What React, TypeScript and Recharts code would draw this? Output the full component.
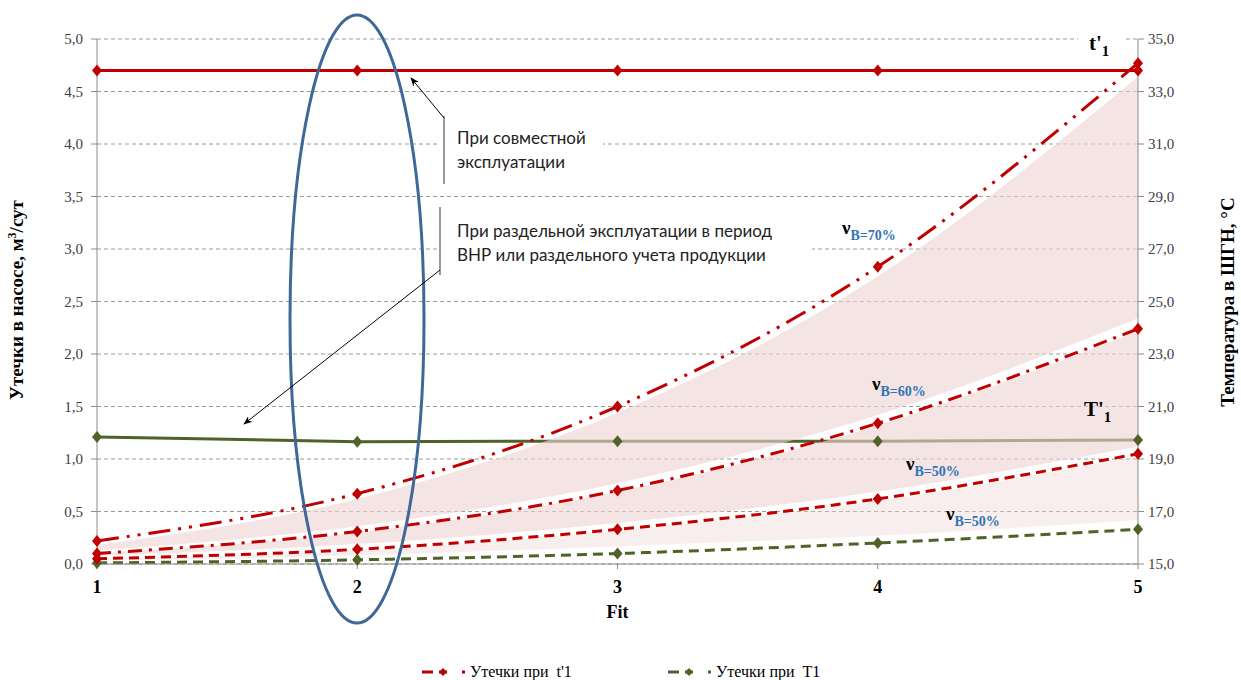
import React from 'react';
import { ComposedChart, Line, Area, XAxis, YAxis, CartesianGrid } from 'recharts';

// Fit values along the x axis
const fit = [1, 2, 3, 4, 5];

// Leakage in the pump, m3/day (left axis)
const leak70 = [0.22, 0.67, 1.5, 2.83, 4.77];
const leak60 = [0.1, 0.31, 0.7, 1.34, 2.24];
const leak50 = [0.05, 0.14, 0.33, 0.62, 1.05];
const leakT1 = [0.01, 0.04, 0.1, 0.2, 0.33];

// Temperature in the pump, °C (right axis)
const tempT1Prime = [33.8, 33.8, 33.8, 33.8, 33.8];
const tempTCap = [19.84, 19.66, 19.68, 19.68, 19.72];

// Shaded bands between the leakage curves (low/high edges, left axis)
const band70Low = [0.13, 0.36, 0.77, 1.42, 2.34];
const band70High = [0.18, 0.62, 1.44, 2.74, 4.64];
const band60Low = [0.08, 0.19, 0.39, 0.69, 1.12];
const band60High = [0.1, 0.3, 0.69, 1.32, 2.22];
const band50Low = [0.03, 0.08, 0.17, 0.27, 0.42];
const band50High = [0.05, 0.13, 0.32, 0.6, 1.03];

const leftTicks = [0, 0.5, 1, 1.5, 2, 2.5, 3, 3.5, 4, 4.5, 5];
const rightTicks = [15, 17, 19, 21, 23, 25, 27, 29, 31, 33, 35];

const data = fit.map((x, i) => ({
  fit: x,
  leak70: leak70[i],
  leak60: leak60[i],
  leak50: leak50[i],
  leakT1: leakT1[i],
  tT1: tempT1Prime[i],
  tCap: tempTCap[i],
  b70: [band70Low[i], band70High[i]],
  b60: [band60Low[i], band60High[i]],
  b50: [band50Low[i], band50High[i]],
}));

const RED = '#c00000';
const GREEN = '#4f6228';
const PINK = '#eed3d2';
const SERIF = '"Liberation Serif", "Times New Roman", serif';
const SANS = 'Lato, "Noto Sans", sans-serif';

const comma = (v: number) => v.toFixed(1).replace('.', ',');

const diamond = (color: string) => (props: any) => {
  const { cx, cy, index } = props;
  if (cx == null || cy == null) return <g key={`d-${index}`} />;
  return (
    <path
      key={`d-${index}`}
      d={`M${cx},${cy - 6} L${cx + 5},${cy} L${cx},${cy + 6} L${cx - 5},${cy} Z`}
      fill={color}
    />
  );
};

const Nu = ({ x, y, sub }: { x: number; y: number; sub: string }) => (
  <text x={x} y={y} fontFamily={SERIF} fontWeight="bold">
    <tspan fontSize={19} fill="#000">ν</tspan>
    <tspan fontSize={14} fill="#2e75b6" dy={6}>{sub}</tspan>
  </text>
);

const LegendItem = ({ x, color, label }: { x: number; color: string; label: string }) => (
  <g>
    <line x1={x} y1={672} x2={x + 11} y2={672} stroke={color} strokeWidth={3} />
    <path d={`M${x + 21},${672 - 4} L${x + 25},${672} L${x + 21},${672 + 4} L${x + 17},${672} Z`} fill={color} />
    <line x1={x + 17} y1={672} x2={x + 25} y2={672} stroke={color} strokeWidth={3} />
    <rect x={x + 40} y={670.5} width={3} height={3} fill={color} />
    <text x={x + 48} y={677} fontFamily={SERIF} fontSize={16} fill="#000">{label}</text>
  </g>
);

const App = () => {
  return (
    <div style={{ position: 'absolute', left: 0, top: 0, width: 1241, height: 680, background: '#fff' }}>
      <ComposedChart
        width={1241}
        height={680}
        data={data}
        margin={{ top: 39, right: 0, bottom: 56, left: 0 }}
      >
        <CartesianGrid yAxisId="left" vertical={false} stroke="#9a9a9a" strokeDasharray="4 3" />
        <XAxis
          dataKey="fit"
          type="number"
          domain={[1, 5]}
          ticks={fit}
          height={60}
          stroke="#8c8c8c"
          tickSize={5}
          tickMargin={11}
          tick={{ fontFamily: SERIF, fontSize: 18, fontWeight: 'bold', fill: '#000' }}
          label={{ value: 'Fit', position: 'insideBottom', offset: 6, style: { fontFamily: SERIF, fontSize: 18, fontWeight: 'bold', fill: '#000' } }}
        />
        <YAxis
          yAxisId="left"
          width={97}
          domain={[0, 5]}
          ticks={leftTicks}
          tickFormatter={comma}
          stroke="#8c8c8c"
          tickSize={6}
          tickMargin={8}
          tick={{ fontFamily: SERIF, fontSize: 15, fill: '#404040' }}
        />
        <YAxis
          yAxisId="right"
          orientation="right"
          width={103}
          domain={[15, 35]}
          ticks={rightTicks}
          tickFormatter={comma}
          stroke="#8c8c8c"
          tickSize={6}
          tickMargin={4}
          tick={{ fontFamily: SERIF, fontSize: 15, fill: '#404040' }}
        />

        {/* T'1 temperature as an unfilled area so the shading below is painted over it */}
        <Area
          yAxisId="right"
          type="linear"
          dataKey="tCap"
          stroke={GREEN}
          strokeWidth={3}
          fill="none"
          dot={diamond(GREEN)}
          activeDot={false}
          isAnimationActive={false}
        />

        <Area yAxisId="left" type="monotone" dataKey="b70" stroke="none" fill={PINK} fillOpacity={0.62} activeDot={false} isAnimationActive={false} />
        <Area yAxisId="left" type="monotone" dataKey="b60" stroke="none" fill={PINK} fillOpacity={0.62} activeDot={false} isAnimationActive={false} />
        <Area yAxisId="left" type="monotone" dataKey="b50" stroke="none" fill={PINK} fillOpacity={0.38} activeDot={false} isAnimationActive={false} />

        <Line yAxisId="left" type="monotone" dataKey="leakT1" stroke={GREEN} strokeWidth={3} strokeDasharray="10 6" dot={diamond(GREEN)} activeDot={false} isAnimationActive={false} />
        <Line yAxisId="left" type="monotone" dataKey="leak50" stroke={RED} strokeWidth={3} strokeDasharray="10 6" dot={diamond(RED)} activeDot={false} isAnimationActive={false} />
        <Line yAxisId="left" type="monotone" dataKey="leak60" stroke={RED} strokeWidth={3} strokeDasharray="14 7 3 7" dot={diamond(RED)} activeDot={false} isAnimationActive={false} />
        <Line yAxisId="left" type="monotone" dataKey="leak70" stroke={RED} strokeWidth={3} strokeDasharray="22 8 3 8 3 8" dot={diamond(RED)} activeDot={false} isAnimationActive={false} />

        {/* t'1 temperature */}
        <Line yAxisId="right" dataKey="tT1" stroke={RED} strokeWidth={3} dot={diamond(RED)} activeDot={false} isAnimationActive={false} />
      </ComposedChart>

      {/* annotations, axis titles and legend */}
      <svg width={1241} height={680} style={{ position: 'absolute', left: 0, top: 0, pointerEvents: 'none' }}>
        <defs>
          <marker id="arrow" viewBox="0 0 10 10" refX="9" refY="5" markerWidth="9" markerHeight="9" orient="auto-start-reverse">
            <path d="M0,1 L10,5 L0,9 L3,5 Z" fill="#000" />
          </marker>
        </defs>

        <ellipse cx={357} cy={319} rx={67} ry={304} fill="none" stroke="#3f6797" strokeWidth={3} />

        <rect x={438} y={116} width={165} height={70} fill="#fff" />
        <rect x={438} y={205} width={374} height={68} fill="#fff" />
        <line x1={444} y1={116} x2={444} y2={184} stroke="#555" strokeWidth={1.2} />
        <line x1={440} y1={207} x2={440} y2={275} stroke="#555" strokeWidth={1.2} />
        <line x1={444} y1={118} x2={411} y2={78} stroke="#000" strokeWidth={1} markerEnd="url(#arrow)" />
        <line x1={440} y1={270} x2={244} y2={424} stroke="#000" strokeWidth={1} markerEnd="url(#arrow)" />
        <text fontFamily={SANS} fontSize={17} fill="#222">
          <tspan x={457} y={144}>При совместной</tspan>
          <tspan x={457} y={168}>эксплуатации</tspan>
          <tspan x={457} y={237}>При раздельной эксплуатации в период</tspan>
          <tspan x={457} y={261}>ВНР или раздельного учета продукции</tspan>
        </text>

        <rect x={1078} y={30} width={48} height={30} fill="#fff" />
        <text x={1089} y={50} fontFamily={SERIF} fontWeight="bold" fontSize={21} fill="#000">
          t'<tspan fontSize={15} dy={6}>1</tspan>
        </text>
        <text x={1084} y={416} fontFamily={SERIF} fontWeight="bold" fontSize={21} fill="#000">
          T'<tspan fontSize={15} dy={6}>1</tspan>
        </text>

        <Nu x={842} y={234} sub="B=70%" />
        <Nu x={872} y={390} sub="B=60%" />
        <Nu x={906} y={470} sub="B=50%" />
        <Nu x={946} y={520} sub="B=50%" />

        <text
          transform="translate(23,300) rotate(-90)"
          textAnchor="middle"
          fontFamily={SERIF}
          fontWeight="bold"
          fontSize={19}
          fill="#000"
        >
          Утечки в насосе, м<tspan fontSize={12} dy={-7}>3</tspan><tspan dy={7}>/сут</tspan>
        </text>
        <text
          transform="translate(1234,302) rotate(-90)"
          textAnchor="middle"
          fontFamily={SERIF}
          fontWeight="bold"
          fontSize={19}
          fill="#000"
        >
          Температура в ШГН, °С
        </text>

        <LegendItem x={422} color={RED} label={'Утечки при\u00a0 t\'1'} />
        <LegendItem x={668} color={GREEN} label={'Утечки при\u00a0 T1'} />
      </svg>
    </div>
  );
};

export default App;
